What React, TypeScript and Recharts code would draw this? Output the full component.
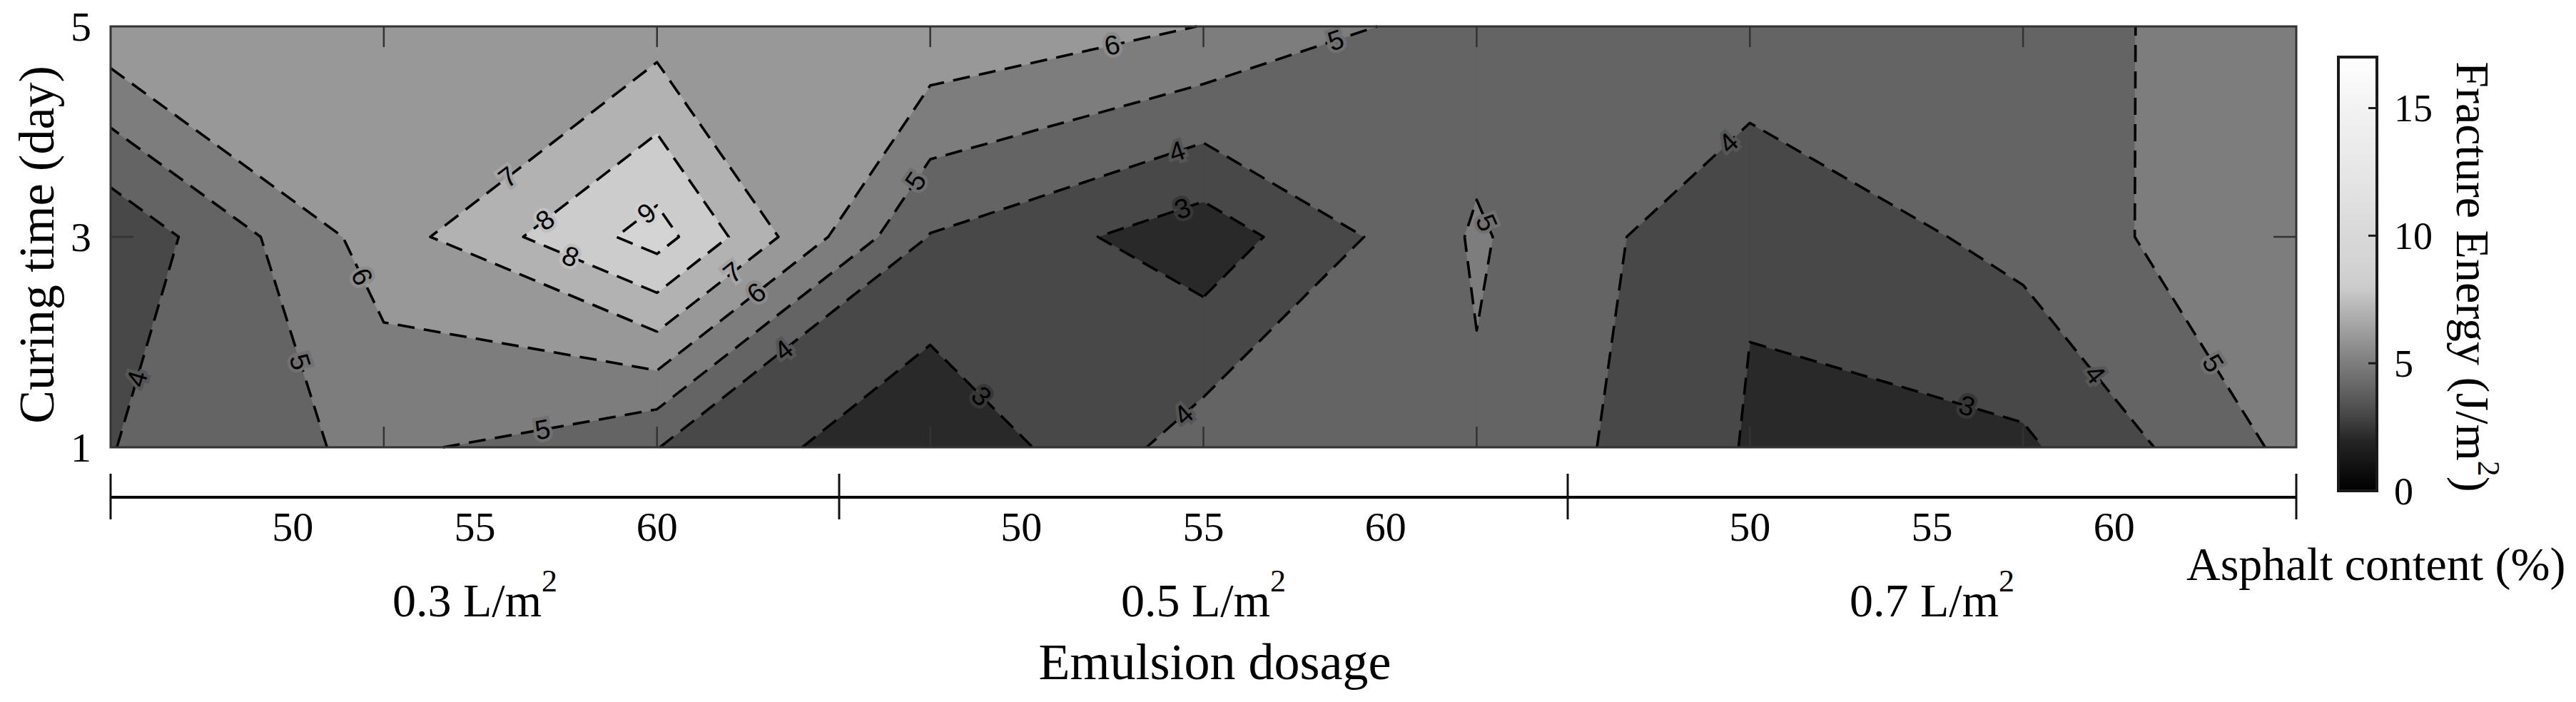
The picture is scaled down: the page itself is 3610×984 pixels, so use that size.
import React from 'react';
import { ScatterChart, Scatter, XAxis, YAxis, BarChart, Bar } from 'recharts';

// ---------------- data ----------------
const gridX = [1, 2, 3, 4, 5, 6, 7, 8, 9];
const curingDays = [1, 3, 5];
const energyDay1 = [3.97, 5.27, 4.02, 2.1, 4.5, 4.85, 2.92, 2.82, 5.28];
const energyDay3 = [3.17, 6.5, 9.44, 3.95, 2.4, 5.12, 3.08, 4.35, 5.94];
const energyDay5 = [6.7, 6.6, 6.5, 6.8, 5.98, 4.44, 4.78, 4.65, 5.5];
const contourLevels = [3, 4, 5, 6, 7, 8, 9];
const curingTicks = [1, 3, 5];
const asphaltContents = [50, 55, 60];
const asphaltRange = [45, 65];
const emulsionDosages = ['0.3', '0.5', '0.7'];
const colorbarTicks = [0, 5, 10, 15];
const colorbarMax = 17;
const grayStops: [number, number][] = [
  [0, 0], [1, 18], [2, 38], [3, 72], [4, 100], [5, 125], [6, 152], [7, 178],
  [8, 204], [9, 212], [10, 216], [12, 228], [15, 242], [17, 255],
];
const contourLabelSpots = [
  { level: 4, x: 1.11, y: 1.65 }, { level: 5, x: 1.68, y: 1.81 }, { level: 6, x: 1.92, y: 2.62 },
  { level: 7, x: 2.45, y: 3.57 }, { level: 8, x: 2.59, y: 3.16 }, { level: 8, x: 2.67, y: 2.8 },
  { level: 9, x: 2.97, y: 3.22 }, { level: 7, x: 3.28, y: 2.66 }, { level: 6, x: 3.38, y: 2.46 },
  { level: 4, x: 3.47, y: 1.92 }, { level: 5, x: 2.59, y: 1.15 }, { level: 6, x: 4.69, y: 4.78 },
  { level: 5, x: 5.51, y: 4.84 }, { level: 5, x: 3.95, y: 3.53 }, { level: 4, x: 4.93, y: 3.78 },
  { level: 3, x: 4.94, y: 3.25 }, { level: 5, x: 6.02, y: 3.13 }, { level: 3, x: 4.17, y: 1.48 },
  { level: 4, x: 4.95, y: 1.3 }, { level: 4, x: 6.93, y: 3.89 }, { level: 3, x: 7.77, y: 1.36 },
  { level: 4, x: 8.25, y: 1.69 }, { level: 5, x: 8.7, y: 1.8 },
];

const SERIF = '"Liberation Serif", "Times New Roman", serif';
const SANS = '"Liberation Sans", Arial, Helvetica, sans-serif';

// ---------------- helpers ----------------
type P = { x: number; y: number };
const zGrid = [energyDay1, energyDay3, energyDay5];
const zMin = Math.min(...zGrid.flat());

function grayAt(v: number): string {
  const s = grayStops;
  let g = s[s.length - 1][1];
  if (v <= s[0][0]) g = s[0][1];
  else {
    for (let k = 0; k < s.length - 1; k++) {
      if (v >= s[k][0] && v <= s[k + 1][0]) {
        const t = (v - s[k][0]) / (s[k + 1][0] - s[k][0]);
        g = s[k][1] + t * (s[k + 1][1] - s[k][1]);
        break;
      }
    }
  }
  const h = Math.round(g).toString(16).padStart(2, '0');
  return `#${h}${h}${h}`;
}

function contourLevel(L: number) {
  const pts = new Map<string, P>();
  const segs: [string, string][] = [];
  const polys: P[][] = [];
  for (let j = 0; j < curingDays.length - 1; j++) {
    for (let i = 0; i < gridX.length - 1; i++) {
      const c = [
        { x: gridX[i], y: curingDays[j], z: zGrid[j][i] },
        { x: gridX[i + 1], y: curingDays[j], z: zGrid[j][i + 1] },
        { x: gridX[i + 1], y: curingDays[j + 1], z: zGrid[j + 1][i + 1] },
        { x: gridX[i], y: curingDays[j + 1], z: zGrid[j + 1][i] },
      ];
      const edges: [number, number, string][] = [
        [0, 1, `h${j}_${i}`], [1, 2, `v${j}_${i + 1}`], [3, 2, `h${j + 1}_${i}`], [0, 3, `v${j}_${i}`],
      ];
      const up = c.map((k) => k.z >= L);
      const cross: (string | null)[] = edges.map(([a, b, key]) => {
        if (up[a] === up[b]) return null;
        if (!pts.has(key)) {
          const t = (L - c[a].z) / (c[b].z - c[a].z);
          pts.set(key, { x: c[a].x + t * (c[b].x - c[a].x), y: c[a].y + t * (c[b].y - c[a].y) });
        }
        return key;
      });
      const walk = () => {
        const poly: P[] = [];
        for (let k = 0; k < 4; k++) {
          if (up[k]) poly.push({ x: c[k].x, y: c[k].y });
          if (cross[k]) poly.push(pts.get(cross[k] as string) as P);
        }
        return poly;
      };
      const ks = cross.filter(Boolean) as string[];
      if (ks.length === 0) {
        if (up[0]) polys.push(walk());
        continue;
      }
      if (ks.length === 2) {
        segs.push([ks[0], ks[1]]);
        polys.push(walk());
        continue;
      }
      const center = (c[0].z + c[1].z + c[2].z + c[3].z) / 4;
      const joinHigh = center >= L;
      for (let k = 0; k < 4; k++) {
        const isolate = joinHigh ? !up[k] : up[k];
        if (isolate) segs.push([cross[(k + 3) % 4] as string, cross[k] as string]);
      }
      if (joinHigh) polys.push(walk());
      else {
        for (let k = 0; k < 4; k++) {
          if (up[k]) {
            polys.push([
              pts.get(cross[(k + 3) % 4] as string) as P,
              { x: c[k].x, y: c[k].y },
              pts.get(cross[k] as string) as P,
            ]);
          }
        }
      }
    }
  }
  // chain segments into polylines
  const adj = new Map<string, number[]>();
  segs.forEach((s, idx) => s.forEach((k) => {
    if (!adj.has(k)) adj.set(k, []);
    (adj.get(k) as number[]).push(idx);
  }));
  const used = segs.map(() => false);
  const walkFrom = (start: string) => {
    const keys = [start];
    let cur = start;
    for (;;) {
      const next = (adj.get(cur) || []).find((si) => !used[si]);
      if (next === undefined) break;
      used[next] = true;
      const s = segs[next];
      cur = s[0] === cur ? s[1] : s[0];
      keys.push(cur);
    }
    return keys;
  };
  const lines: { points: P[]; closed: boolean }[] = [];
  adj.forEach((list, k) => {
    if (list.length === 1 && !used[list[0]]) {
      lines.push({ points: walkFrom(k).map((kk) => pts.get(kk) as P), closed: false });
    }
  });
  segs.forEach((s, si) => {
    if (!used[si]) {
      const keys = walkFrom(s[0]);
      if (keys.length > 1 && keys[keys.length - 1] === keys[0]) keys.pop();
      lines.push({ points: keys.map((kk) => pts.get(kk) as P), closed: true });
    }
  });
  return { level: L, polys, lines };
}

const contours = contourLevels.map((L) => contourLevel(L));

const labelPairs = contourLabelSpots.map((s) => {
  const c = contours.find((cc) => cc.level === s.level);
  let best = { d: Infinity, px: s.x, py: s.y, dx: 1, dy: 0 };
  (c ? c.lines : []).forEach((line) => {
    const p = line.points;
    const n = p.length;
    const segCount = line.closed ? n : n - 1;
    for (let k = 0; k < segCount; k++) {
      const a = p[k];
      const b = p[(k + 1) % n];
      const vx = b.x - a.x;
      const vy = b.y - a.y;
      const len2 = vx * vx + vy * vy;
      let t = len2 ? ((s.x - a.x) * vx + (s.y - a.y) * vy) / len2 : 0;
      t = Math.max(0, Math.min(1, t));
      const px = a.x + t * vx;
      const py = a.y + t * vy;
      const d = (px - s.x) ** 2 + (py - s.y) ** 2;
      if (d < best.d) {
        const l = Math.sqrt(len2) || 1;
        best = { d, px, py, dx: vx / l, dy: vy / l };
      }
    }
  });
  return best;
});
const labelData = labelPairs.flatMap((b) => [
  { x: b.px, y: b.py },
  { x: b.px + b.dx * 0.05, y: b.py + b.dy * 0.05 },
]);

const xMin = gridX[0];
const xMax = gridX[gridX.length - 1];
const yMin = curingDays[0];
const yMax = curingDays[curingDays.length - 1];
const frameCorners = [
  { x: xMin, y: yMin }, { x: xMax, y: yMin }, { x: xMax, y: yMax }, { x: xMin, y: yMax },
];
const xTickAnchors = gridX.slice(1, -1).flatMap((x) => [{ x, y: yMin }, { x, y: yMax }]);
const yTickAnchors = curingTicks.slice(1, -1).flatMap((y) => [{ x: xMin, y }, { x: xMax, y }]);

const groupSpan = asphaltRange[1] - asphaltRange[0];
const asphaltAxisMax = groupSpan * emulsionDosages.length;
const asphaltTicks: number[] = [];
emulsionDosages.forEach((_, g) => {
  asphaltTicks.push(g * groupSpan);
  asphaltContents.forEach((c) => asphaltTicks.push(g * groupSpan + (c - asphaltRange[0])));
});
asphaltTicks.push(asphaltAxisMax);
const dosageTicks = emulsionDosages.map((_, g) => g + 0.5);

// ---------------- render helpers ----------------
const NoMark = () => <g />;

function splitBySizes(points: P[], sizes: number[]) {
  const out: P[][] = [];
  let o = 0;
  sizes.forEach((n) => {
    out.push(points.slice(o, o + n));
    o += n;
  });
  return out;
}
const pathOf = (pp: P[], closed: boolean) =>
  pp.map((p, k) => `${k === 0 ? 'M' : 'L'}${p.x.toFixed(2)},${p.y.toFixed(2)}`).join(' ') + (closed ? ' Z' : '');

const fillRenderer = (sizes: number[], color: string) => (props: any) => {
  const parts = splitBySizes(props.points || [], sizes);
  return (
    <g>
      {parts.map((pp, idx) => (
        <path key={idx} d={pathOf(pp, true)} fill={color} stroke={color} strokeWidth={1.2} strokeLinejoin="round" />
      ))}
    </g>
  );
};

const lineRenderer = (sizes: number[], closed: boolean[]) => (props: any) => {
  const parts = splitBySizes(props.points || [], sizes);
  return (
    <g>
      {parts.map((pp, idx) => (
        <path
          key={idx}
          d={pathOf(pp, closed[idx])}
          fill="none"
          stroke="#000"
          strokeWidth={3.6}
          strokeDasharray="24 13"
          strokeLinejoin="round"
        />
      ))}
    </g>
  );
};

const labelRenderer = (props: any) => {
  const pts: P[] = props.points || [];
  return (
    <g>
      {contourLabelSpots.map((s, idx) => {
        const a = pts[2 * idx];
        const b = pts[2 * idx + 1];
        if (!a || !b) return null;
        let ang = (Math.atan2(b.y - a.y, b.x - a.x) * 180) / Math.PI;
        if (ang > 90) ang -= 180;
        if (ang <= -90) ang += 180;
        return (
          <text
            key={idx}
            x={a.x}
            y={a.y}
            transform={`rotate(${ang.toFixed(1)} ${a.x} ${a.y})`}
            textAnchor="middle"
            dominantBaseline="central"
            fontFamily={SANS}
            fontSize={38}
            fill="#000"
            stroke={grayAt(s.level - 0.5)}
            strokeWidth={9}
            paintOrder="stroke"
          >
            {s.level}
          </text>
        );
      })}
    </g>
  );
};

const frameRenderer = (props: any) => (
  <path d={pathOf(props.points || [], true)} fill="none" stroke="#333" strokeWidth={3} />
);
const xTickRenderer = (props: any) => (
  <g>
    {(props.points || []).map((p: P, k: number) => (
      <line key={k} x1={p.x} x2={p.x} y1={p.y} y2={p.y + (k % 2 === 0 ? -29 : 29)} stroke="#333" strokeWidth={2.5} />
    ))}
  </g>
);
const yTickRenderer = (props: any) => (
  <g>
    {(props.points || []).map((p: P, k: number) => (
      <line key={k} y1={p.y} y2={p.y} x1={p.x} x2={p.x + (k % 2 === 0 ? 32 : -32)} stroke="#333" strokeWidth={2.5} />
    ))}
  </g>
);

const CuringTick = (props: any) => {
  const { x, y, payload } = props;
  return (
    <text x={x - 27} y={y} dy="0.35em" textAnchor="end" fontFamily={SERIF} fontSize={58} fill="#000">
      {payload.value}
    </text>
  );
};

const AsphaltTick = (props: any) => {
  const { x, y, payload } = props;
  const v = payload.value;
  if (Math.abs(v % groupSpan) < 1e-9) {
    return <line x1={x} x2={x} y1={y - 33} y2={y + 31} stroke="#111" strokeWidth={3} />;
  }
  return (
    <text x={x} y={y + 61} textAnchor="middle" fontFamily={SERIF} fontSize={58} fill="#000">
      {asphaltRange[0] + (v % groupSpan)}
    </text>
  );
};

const DosageTick = (props: any) => {
  const { x, y, payload } = props;
  const idx = Math.floor(payload.value);
  return (
    <text x={x} y={y + 67} textAnchor="middle" fontFamily={SERIF} fontSize={66} fill="#000">
      {`${emulsionDosages[idx]} L/m`}
      <tspan dy={-35} fontSize={44}>2</tspan>
    </text>
  );
};

const CuringLabel = (props: any) => {
  const vb = props.viewBox || { x: 0, y: 37, width: 155, height: 590 };
  const cx = vb.x + 75;
  const cy = vb.y + vb.height / 2 + 11;
  return (
    <text x={cx} y={cy} transform={`rotate(-90 ${cx} ${cy})`} textAnchor="middle" fontFamily={SERIF} fontSize={70} fill="#000">
      Curing time (day)
    </text>
  );
};

const AsphaltLabel = (props: any) => {
  const vb = props.viewBox || { x: 155, y: 697, width: 3063, height: 100 };
  return (
    <text x={vb.x + vb.width - 154} y={vb.y + 116} textAnchor="start" fontFamily={SERIF} fontSize={66} fill="#000">
      Asphalt content (%)
    </text>
  );
};

const DosageLabel = (props: any) => {
  const vb = props.viewBox || { x: 155, y: 797, width: 3063, height: 187 };
  return (
    <text x={vb.x + vb.width / 2 + 16} y={vb.y + 155} textAnchor="middle" fontFamily={SERIF} fontSize={72} fill="#000">
      Emulsion dosage
    </text>
  );
};

const ColorbarShape = (props: any) => {
  const { x, y, width, height } = props;
  return (
    <g>
      <defs>
        <linearGradient id="cbGrad" x1="0" y1="1" x2="0" y2="0">
          {grayStops.map(([v]) => (
            <stop key={v} offset={v / colorbarMax} stopColor={grayAt(v)} />
          ))}
        </linearGradient>
      </defs>
      <rect x={x} y={y} width={width} height={height} fill="url(#cbGrad)" stroke="#1a1a1a" strokeWidth={4} />
    </g>
  );
};

const CbTick = (props: any) => {
  const { x, y, payload } = props;
  return (
    <g>
      <line x1={x - 12} x2={x - 1} y1={y} y2={y} stroke="#1a1a1a" strokeWidth={3} />
      <text x={x + 24} y={y} dy="0.35em" textAnchor="start" fontFamily={SERIF} fontSize={54} fill="#000">
        {payload.value}
      </text>
    </g>
  );
};

const CbLabel = (props: any) => {
  const vb = props.viewBox || { x: 91, y: 80, width: 279, height: 608 };
  const cx = vb.x + 112;
  const cy = vb.y + vb.height / 2 + 4;
  return (
    <text x={cx} y={cy} transform={`rotate(90 ${cx} ${cy})`} textAnchor="middle" fontFamily={SERIF} fontSize={66} fill="#000">
      Fracture Energy (J/m
      <tspan dy={-30} fontSize={44}>2</tspan>
      <tspan dy={30}>)</tspan>
    </text>
  );
};

export default function App() {
  const baseColor = grayAt(zMin);
  return (
    <div style={{ position: 'absolute', left: 0, top: 0, width: 3610, height: 984, background: '#fff' }}>
      <div style={{ position: 'absolute', left: 0, top: 0 }}>
        <ScatterChart width={3610} height={984} margin={{ top: 37, right: 392, bottom: 0, left: 0 }}>
          <XAxis
            xAxisId={0}
            dataKey="x"
            type="number"
            domain={[xMin, xMax]}
            ticks={gridX}
            tick={false}
            axisLine={false}
            tickLine={false}
            height={70}
          />
          <XAxis
            xAxisId="asphalt"
            dataKey="x"
            type="number"
            domain={[0, asphaltAxisMax]}
            allowDataOverflow
            ticks={asphaltTicks}
            interval={0}
            tickSize={0}
            tickMargin={0}
            tickLine={false}
            axisLine={{ stroke: '#000', strokeWidth: 4 }}
            tick={<AsphaltTick />}
            height={100}
            label={{ content: AsphaltLabel }}
          />
          <XAxis
            xAxisId="dosage"
            dataKey="x"
            type="number"
            domain={[0, emulsionDosages.length]}
            allowDataOverflow
            ticks={dosageTicks}
            interval={0}
            tickSize={0}
            tickMargin={0}
            tickLine={false}
            axisLine={false}
            tick={<DosageTick />}
            height={187}
            label={{ content: DosageLabel }}
          />
          <YAxis
            yAxisId={0}
            dataKey="y"
            type="number"
            domain={[yMin, yMax]}
            ticks={curingTicks}
            interval={0}
            tickSize={0}
            tickMargin={0}
            tickLine={false}
            axisLine={false}
            tick={<CuringTick />}
            width={155}
            label={{ content: CuringLabel }}
          />
          <Scatter
            xAxisId="asphalt"
            data={[{ x: 0, y: yMin }, { x: asphaltAxisMax, y: yMax }]}
            shape={NoMark}
            isAnimationActive={false}
          />
          <Scatter
            xAxisId="dosage"
            data={[{ x: 0, y: yMin }, { x: emulsionDosages.length, y: yMax }]}
            shape={NoMark}
            isAnimationActive={false}
          />
          <Scatter
            data={frameCorners}
            shape={NoMark}
            line={fillRenderer([4], baseColor)}
            isAnimationActive={false}
          />
          {contours.map((c) => (
            <Scatter
              key={`fill-${c.level}`}
              data={c.polys.flat()}
              shape={NoMark}
              line={fillRenderer(c.polys.map((p) => p.length), grayAt(c.level))}
              isAnimationActive={false}
            />
          ))}
          {contours.map((c) => (
            <Scatter
              key={`line-${c.level}`}
              data={c.lines.flatMap((l) => l.points)}
              shape={NoMark}
              line={lineRenderer(c.lines.map((l) => l.points.length), c.lines.map((l) => l.closed))}
              isAnimationActive={false}
            />
          ))}
          <Scatter data={labelData} shape={NoMark} line={labelRenderer} isAnimationActive={false} />
          <Scatter data={xTickAnchors} shape={NoMark} line={xTickRenderer} isAnimationActive={false} />
          <Scatter data={yTickAnchors} shape={NoMark} line={yTickRenderer} isAnimationActive={false} />
          <Scatter data={frameCorners} shape={NoMark} line={frameRenderer} isAnimationActive={false} />
        </ScatterChart>
      </div>
      <div style={{ position: 'absolute', left: 3240, top: 0 }}>
        <BarChart
          width={370}
          height={984}
          data={[{ name: 'cb', value: colorbarMax }]}
          margin={{ top: 80, right: 0, bottom: 296, left: 37 }}
          barCategoryGap={0}
          barGap={0}
        >
          <XAxis dataKey="name" hide />
          <Bar dataKey="value" isAnimationActive={false} shape={<ColorbarShape />} />
          <YAxis
            orientation="right"
            width={279}
            type="number"
            domain={[0, colorbarMax]}
            ticks={colorbarTicks}
            interval={0}
            tickSize={0}
            tickMargin={0}
            tickLine={false}
            axisLine={false}
            tick={<CbTick />}
            label={{ content: CbLabel }}
          />
        </BarChart>
      </div>
    </div>
  );
}
